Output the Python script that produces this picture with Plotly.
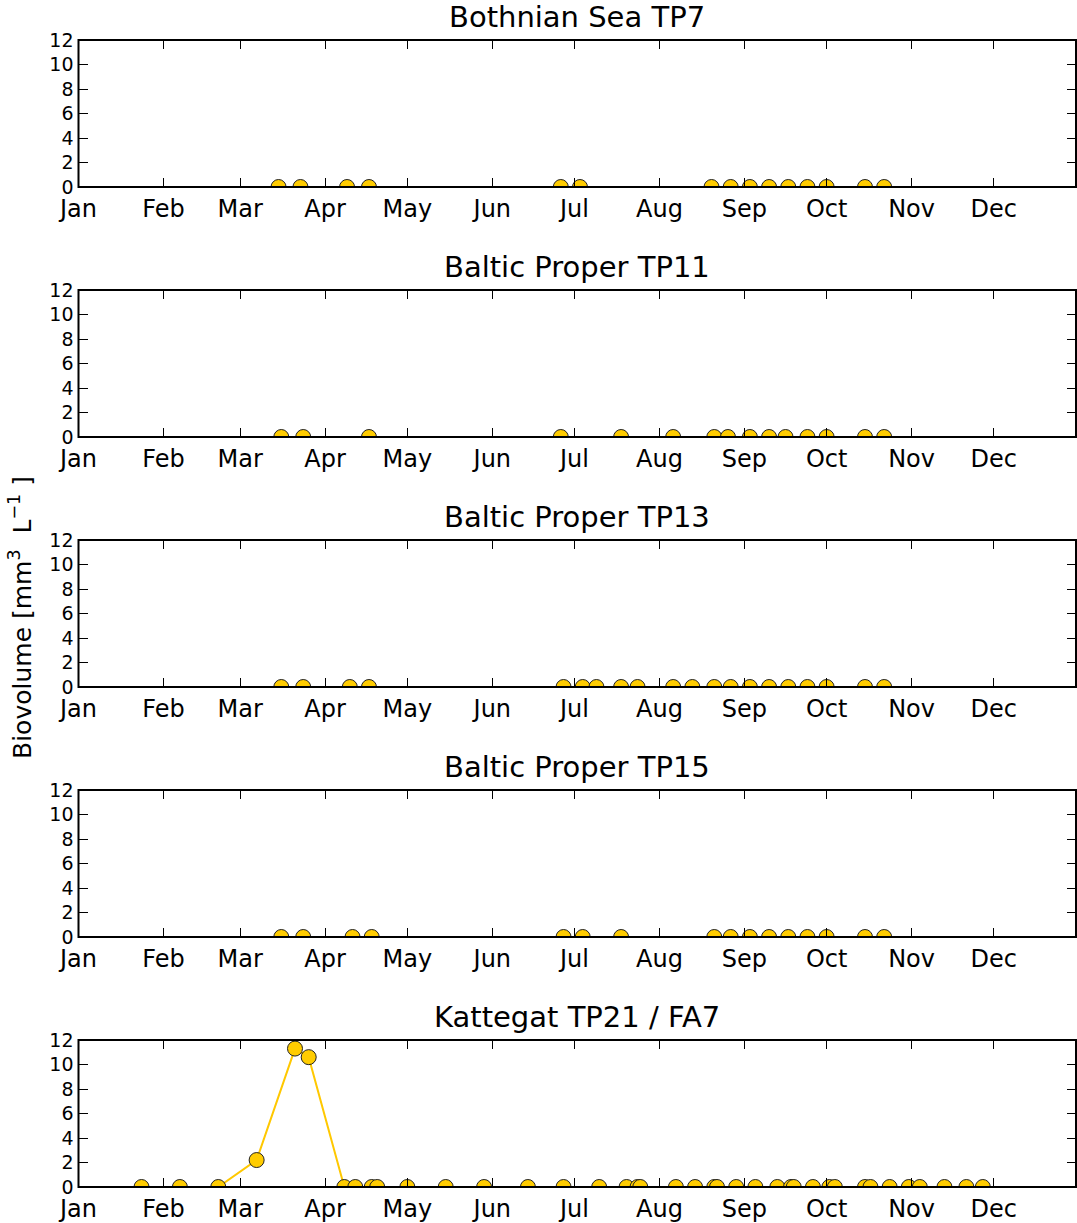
import plotly.graph_objects as go

W, H = 1077, 1223

# ---------------- data ----------------
station_titles = ["Bothnian Sea TP7", "Baltic Proper TP11", "Baltic Proper TP13",
                  "Baltic Proper TP15", "Kattegat TP21 / FA7"]

month_ticks = ["2015-01-01", "2015-02-01", "2015-03-01", "2015-04-01", "2015-05-01",
               "2015-06-01", "2015-07-01", "2015-08-01", "2015-09-01", "2015-10-01",
               "2015-11-01", "2015-12-01"]
month_labels = ["Jan", "Feb", "Mar", "Apr", "May", "Jun", "Jul", "Aug", "Sep", "Oct",
                "Nov", "Dec"]
y_ticks = [0, 2, 4, 6, 8, 10, 12]

tp7_dates = ["2015-03-15", "2015-03-23", "2015-04-09", "2015-04-17", "2015-06-26",
             "2015-07-03", "2015-08-20", "2015-08-27", "2015-09-03", "2015-09-10",
             "2015-09-17", "2015-09-24", "2015-10-01", "2015-10-15", "2015-10-22"]
tp7_values = [0.0, 0.0, 0.0, 0.0, 0.0, 0.0, 0.0, 0.0, 0.0, 0.0, 0.0, 0.0, 0.0, 0.0, 0.0]

tp11_dates = ["2015-03-16", "2015-03-24", "2015-04-17", "2015-06-26", "2015-07-18",
              "2015-08-06", "2015-08-21", "2015-08-26", "2015-09-03", "2015-09-10",
              "2015-09-16", "2015-09-24", "2015-10-01", "2015-10-15", "2015-10-22"]
tp11_values = [0.0, 0.0, 0.0, 0.0, 0.0, 0.0, 0.0, 0.0, 0.0, 0.0, 0.0, 0.0, 0.0, 0.0, 0.0]

tp13_dates = ["2015-03-16", "2015-03-24", "2015-04-10", "2015-04-17", "2015-06-27",
              "2015-07-04", "2015-07-09", "2015-07-18", "2015-07-24", "2015-08-06",
              "2015-08-13", "2015-08-21", "2015-08-27", "2015-09-03", "2015-09-10",
              "2015-09-17", "2015-09-24", "2015-10-01", "2015-10-15", "2015-10-22"]
tp13_values = [0.0, 0.0, 0.0, 0.0, 0.0, 0.0, 0.0, 0.0, 0.0, 0.0,
               0.0, 0.0, 0.0, 0.0, 0.0, 0.0, 0.0, 0.0, 0.0, 0.0]

tp15_dates = ["2015-03-16", "2015-03-24", "2015-04-11", "2015-04-18", "2015-06-27",
              "2015-07-04", "2015-07-18", "2015-08-21", "2015-08-27", "2015-09-03",
              "2015-09-10", "2015-09-17", "2015-09-24", "2015-10-01", "2015-10-15",
              "2015-10-22"]
tp15_values = [0.0, 0.0, 0.0, 0.0, 0.0, 0.0, 0.0, 0.0, 0.0, 0.0, 0.0, 0.0, 0.0, 0.0, 0.0, 0.0]

tp21_dates = ["2015-01-24", "2015-02-07", "2015-02-21", "2015-03-07", "2015-03-21",
              "2015-03-26", "2015-04-08", "2015-04-12", "2015-04-18", "2015-04-20",
              "2015-05-01", "2015-05-15", "2015-05-29", "2015-06-14", "2015-06-27",
              "2015-07-10", "2015-07-20", "2015-07-24", "2015-07-25", "2015-08-07",
              "2015-08-14", "2015-08-21", "2015-08-22", "2015-08-29", "2015-09-05",
              "2015-09-13", "2015-09-18", "2015-09-19", "2015-09-26", "2015-10-02",
              "2015-10-04", "2015-10-15", "2015-10-17", "2015-10-24", "2015-10-31",
              "2015-11-04", "2015-11-13", "2015-11-21", "2015-11-27"]
tp21_values = [0.0, 0.0, 0.0, 2.2, 11.3, 10.6, 0.0, 0.0, 0.0, 0.0,
               0.0, 0.0, 0.0, 0.0, 0.0, 0.0, 0.0, 0.0, 0.0, 0.0,
               0.0, 0.0, 0.0, 0.0, 0.0, 0.0, 0.0, 0.0, 0.0, 0.0,
               0.0, 0.0, 0.0, 0.0, 0.0, 0.0, 0.0, 0.0, 0.0]

all_dates = [tp7_dates, tp11_dates, tp13_dates, tp15_dates, tp21_dates]
all_values = [tp7_values, tp11_values, tp13_values, tp15_values, tp21_values]

# ---------------- layout ----------------
FONT = "DejaVu Sans"
left_px, right_px = 78.5, 1076.0
tops_px = [40, 290, 540, 790, 1040]
plot_h = 147

fig = go.Figure()
layout = dict(
    width=W, height=H,
    margin=dict(l=0, r=0, t=0, b=0, autoexpand=False),
    paper_bgcolor="white", plot_bgcolor="white",
    font=dict(family=FONT, color="black"),
    showlegend=False,
    annotations=[],
    shapes=[],
)

for i in range(5):
    n = "" if i == 0 else str(i + 1)
    fig.add_trace(go.Scatter(
        x=all_dates[i], y=all_values[i],
        xaxis="x" + n, yaxis="y" + n,
        mode="lines+markers",
        line=dict(color="#FFC800", width=2),
        marker=dict(size=15, color="#FFCC00", line=dict(color="#222222", width=1)),
        cliponaxis=True,
        hoverinfo="x+y",
    ))
    top = tops_px[i]
    bot = top + plot_h
    layout["xaxis" + n] = dict(
        domain=[left_px / W, right_px / W], anchor="y" + n,
        type="date", range=["2015-01-01", "2015-12-31"],
        tickmode="array", tickvals=month_ticks, ticktext=month_labels,
        ticks="inside", ticklen=9, tickwidth=1, tickcolor="black",
        showline=False, mirror="allticks", automargin=False,
        showgrid=False, zeroline=False, ticklabelstandoff=5,
        tickfont=dict(family=FONT, size=24, color="black"),
    )
    layout["yaxis" + n] = dict(
        domain=[1 - bot / H, 1 - top / H], anchor="x" + n,
        range=[0, 12], tickmode="array", tickvals=y_ticks,
        ticks="inside", ticklen=9, tickwidth=1, tickcolor="black",
        showline=False, mirror="allticks", automargin=False,
        showgrid=False, zeroline=False, ticklabelstandoff=4,
        tickfont=dict(family=FONT, size=19, color="black"),
    )
    # axes frame drawn above the data, centred on the plot-area edge
    layout["shapes"].append(dict(
        type="rect", xref="x" + n + " domain", yref="y" + n + " domain",
        x0=0, x1=1, y0=0, y1=1, layer="above",
        line=dict(color="black", width=2), fillcolor="rgba(0,0,0,0)",
    ))
    layout["annotations"].append(dict(
        text=station_titles[i], xref="paper", yref="paper",
        x=(left_px + right_px) / 2 / W, y=1 - top / H,
        xanchor="center", yanchor="bottom", yshift=4, showarrow=False,
        font=dict(family=FONT, size=29, color="black"),
    ))

layout["annotations"].append(dict(
    text="Biovolume [mm<sup>3</sup>  L<sup>\u22121</sup> ]",
    xref="paper", yref="paper", x=21 / W, y=1 - 618 / H,
    xanchor="center", yanchor="middle", textangle=-90, showarrow=False,
    font=dict(family=FONT, size=25, color="black"),
))

fig.update_layout(**layout)
fig.write_html("out.html")
